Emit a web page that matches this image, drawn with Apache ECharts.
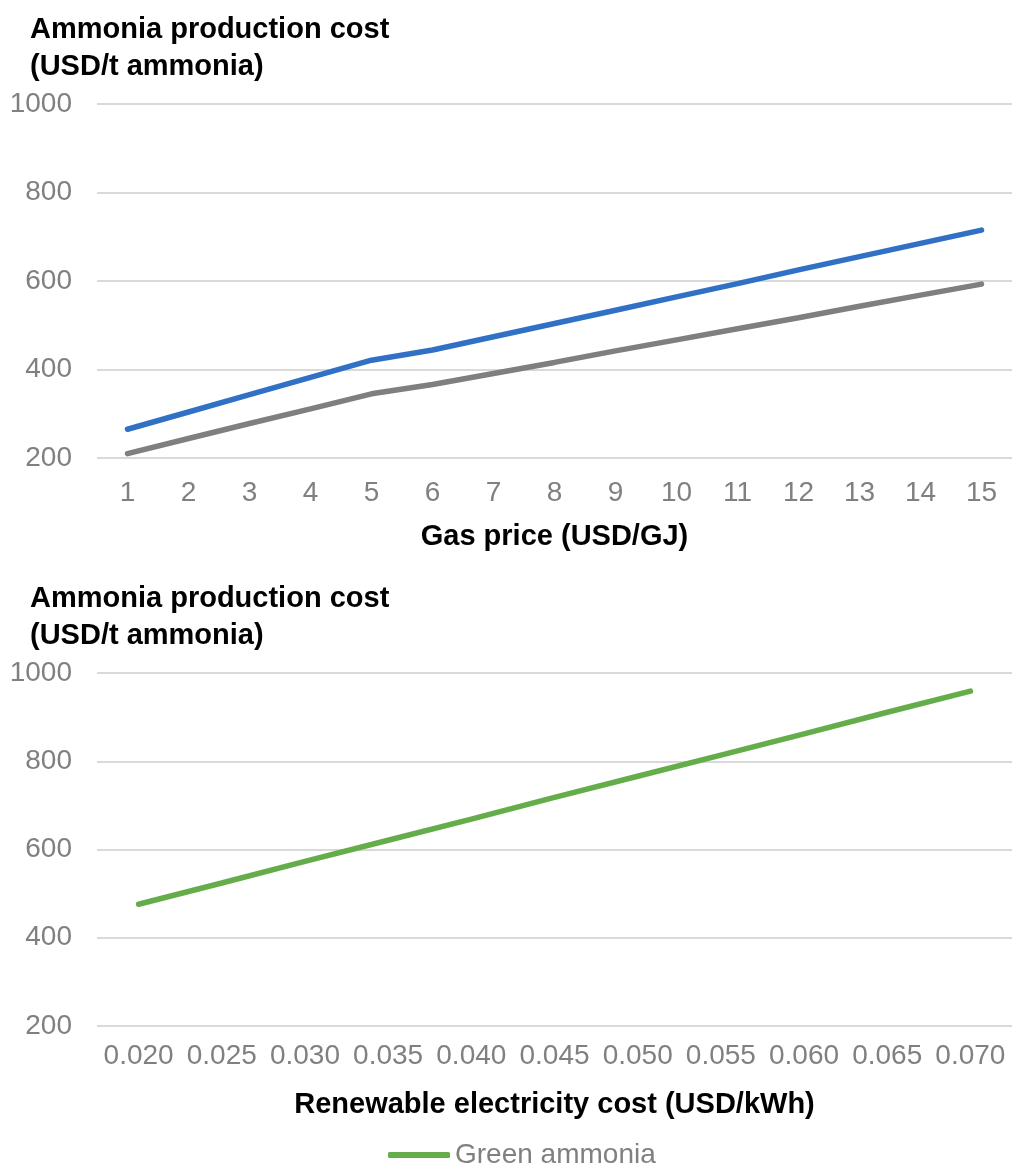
<!DOCTYPE html>
<html>
<head>
<meta charset="utf-8">
<script src="https://cdn.jsdelivr.net/npm/echarts@6/dist/echarts.min.js"></script>
<style>
html,body{margin:0;padding:0;background:#fff;}
#chart{width:1012px;height:1165px;}
</style>
</head>
<body>
<div id="chart"></div>
<script>
// ---- data ----
const gasPrices = ['1','2','3','4','5','6','7','8','9','10','11','12','13','14','15'];
const blueAmmonia = [265, 304, 343, 382, 421, 444, 474, 504, 534, 564, 594, 625, 655, 685, 715];
const greyAmmonia = [210, 244, 278, 311, 345, 366, 391, 416, 442, 467, 492, 517, 543, 568, 593];
const electricityCosts = ['0.020','0.025','0.030','0.035','0.040','0.045','0.050','0.055','0.060','0.065','0.070'];
const greenAmmonia = [476, 524, 573, 621, 669, 718, 766, 814, 862, 911, 959];
const yTicks = [200, 400, 600, 800, 1000];

const titleText = 'Ammonia production cost\n(USD/t ammonia)';
const FONT = '"Liberation Sans", Arial, Helvetica, sans-serif';
const GREY_TXT = '#808080';
const GRID_CLR = '#d9d9d9';

const chart = echarts.init(document.getElementById('chart'), null, {renderer: 'canvas'});

function yAxisCfg(gridIndex) {
  return {
    type: 'value', gridIndex: gridIndex,
    min: yTicks[0], max: yTicks[yTicks.length - 1], interval: 200,
    axisLine: {show: false}, axisTick: {show: false},
    axisLabel: {color: GREY_TXT, fontSize: 28, fontFamily: FONT, margin: 25,
                formatter: function (v) { return String(v); }},
    splitLine: {lineStyle: {color: GRID_CLR, width: 2}}
  };
}
function xAxisCfg(gridIndex, cats, name, margin, gap) {
  return {
    type: 'category', gridIndex: gridIndex, data: cats, boundaryGap: true,
    name: name, nameLocation: 'middle', nameGap: gap,
    nameTextStyle: {color: '#000', fontSize: 29, fontWeight: 'bold', fontFamily: FONT},
    axisLine: {show: false}, axisTick: {show: false},
    axisLabel: {color: GREY_TXT, fontSize: 28, fontFamily: FONT, margin: margin, interval: 0},
    splitLine: {show: false}
  };
}

const option = {
  backgroundColor: '#fff',
  animation: false,
  title: [
    {text: titleText, left: 30, top: 11, padding: 0,
     textStyle: {color: '#000', fontSize: 29, fontWeight: 'bold', fontFamily: FONT, lineHeight: 37}},
    {text: titleText, left: 30, top: 580, padding: 0,
     textStyle: {color: '#000', fontSize: 29, fontWeight: 'bold', fontFamily: FONT, lineHeight: 37}}
  ],
  legend: {
    data: ['Green ammonia'],
    left: 383, top: 1136,
    icon: 'roundRect', itemWidth: 62, itemHeight: 6, itemGap: 20,
    textStyle: {color: GREY_TXT, fontSize: 28, fontFamily: FONT}
  },
  grid: [
    {left: 97, top: 104, width: 918, height: 354},
    {left: 97, top: 673, width: 915, height: 353}
  ],
  xAxis: [
    xAxisCfg(0, gasPrices, 'Gas price (USD/GJ)', 21, 64),
    xAxisCfg(1, electricityCosts, 'Renewable electricity cost (USD/kWh)', 16, 64)
  ],
  yAxis: [yAxisCfg(0), yAxisCfg(1)],
  series: [
    {name: 'Blue ammonia', type: 'line', xAxisIndex: 0, yAxisIndex: 0, data: blueAmmonia,
     showSymbol: false, symbol: 'none', lineStyle: {color: '#3071c5', width: 5.5, cap: 'round'},
     itemStyle: {color: '#3071c5'}},
    {name: 'Grey ammonia', type: 'line', xAxisIndex: 0, yAxisIndex: 0, data: greyAmmonia,
     showSymbol: false, symbol: 'none', lineStyle: {color: '#7f7f7f', width: 5.5, cap: 'round'},
     itemStyle: {color: '#7f7f7f'}},
    {name: 'Green ammonia', type: 'line', xAxisIndex: 1, yAxisIndex: 1, data: greenAmmonia,
     showSymbol: false, symbol: 'none', lineStyle: {color: '#65ad4b', width: 5.5, cap: 'round'},
     itemStyle: {color: '#65ad4b'}}
  ]
};
chart.setOption(option);
</script>
</body>
</html>
